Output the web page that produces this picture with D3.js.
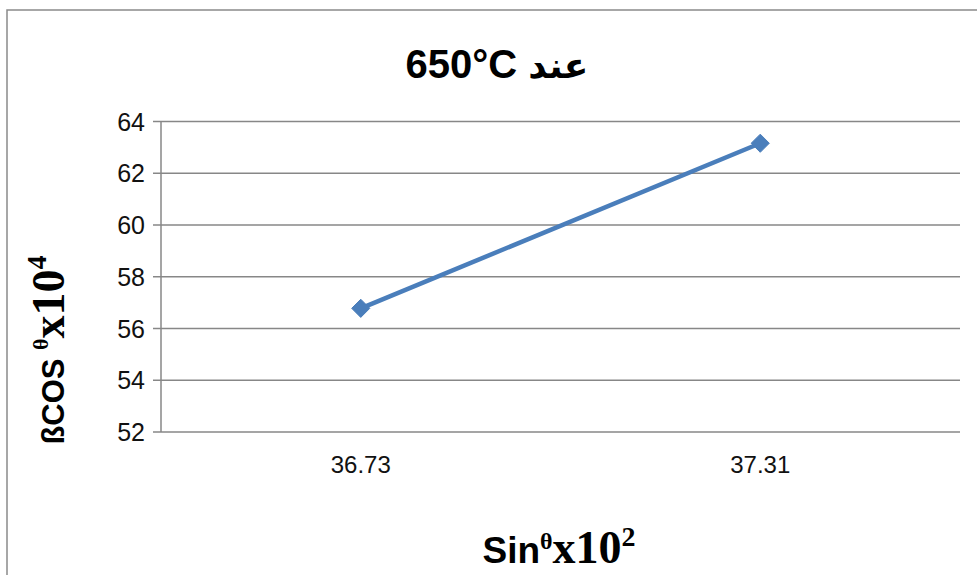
<!DOCTYPE html>
<html><head><meta charset="utf-8">
<script src="https://cdn.jsdelivr.net/npm/d3@7"></script>
<style>body{margin:0;background:#fff}svg{display:block}</style>
</head><body>
<svg id="c" width="977" height="575"></svg>
<script>
const categories = ["36.73", "37.31"];
const values = [56.78, 63.16];
const yTicks = [52, 54, 56, 58, 60, 62, 64];
const titleNumber = "650°C";
const titleWord = "عند";

const svg = d3.select("#c");
const W = 977, H = 575;
const m = {left: 161, right: 960, top: 121.5, bottom: 432};

// outer border
svg.append("rect").attr("x", 7).attr("y", 10).attr("width", W + 10).attr("height", H + 10)
  .attr("fill", "none").attr("stroke", "#8a8a8a").attr("stroke-width", 1.5);

const x = d3.scaleBand().domain(categories).range([m.left, m.right]);
const y = d3.scaleLinear().domain([52, 64]).range([m.bottom, m.top]);

// gridlines
svg.append("g").selectAll("line").data(yTicks).join("line")
  .attr("x1", m.left - 8).attr("x2", m.right)
  .attr("y1", d => y(d)).attr("y2", d => y(d))
  .attr("stroke", "#878787").attr("stroke-width", 1.5);

// y axis line
svg.append("line").attr("x1", m.left).attr("x2", m.left).attr("y1", m.top).attr("y2", m.bottom)
  .attr("stroke", "#878787").attr("stroke-width", 1.5);

// y tick labels
svg.append("g").selectAll("text").data(yTicks).join("text")
  .attr("x", 145).attr("y", d => y(d)).attr("dy", "0.36em")
  .attr("text-anchor", "end").attr("font-family", "Liberation Sans, Arial, sans-serif")
  .attr("font-size", 25).attr("fill", "#111").text(d => d);

// x tick labels
svg.append("g").selectAll("text").data(categories).join("text")
  .attr("x", d => x(d) + x.bandwidth() / 2).attr("y", 473)
  .attr("text-anchor", "middle").attr("font-family", "Liberation Sans, Arial, sans-serif")
  .attr("font-size", 24).attr("fill", "#111").text(d => d);

// line
const pts = categories.map((c, i) => [x(c) + x.bandwidth() / 2, y(values[i])]);
svg.append("path").attr("d", d3.line()(pts)).attr("fill", "none")
  .attr("stroke", "#4a7ebb").attr("stroke-width", 4.5).attr("stroke-linecap", "round");

// diamond markers
svg.append("g").selectAll("path").data(pts).join("path")
  .attr("transform", d => `translate(${d[0]},${d[1]})`)
  .attr("d", d3.symbol().type(d3.symbolDiamond2).size(210))
  .attr("fill", "#4a7ebb").attr("stroke", "#4a7ebb").attr("stroke-width", 1);

// title
const tt = svg.append("text").attr("x", 497).attr("y", 78).attr("text-anchor", "middle")
  .attr("direction", "ltr")
  .attr("font-family", "Liberation Sans, DejaVu Sans, sans-serif").attr("font-weight", "bold")
  .attr("font-size", 40).attr("fill", "#000");
tt.append("tspan").text(titleNumber + " ");
tt.append("tspan").attr("font-family", "DejaVu Sans, sans-serif").attr("font-size", 36).text(titleWord);

// x axis title
const xt = svg.append("text").attr("x", 559).attr("y", 563).attr("text-anchor", "middle")
  .attr("font-weight", "bold").attr("fill", "#000");
xt.append("tspan").attr("font-family", "Liberation Sans, sans-serif").attr("font-size", 37).text("Sin");
xt.append("tspan").attr("font-family", "Liberation Serif, serif").attr("font-size", 24).attr("dy", -14).text("θ");
xt.append("tspan").attr("font-family", "Liberation Serif, serif").attr("font-size", 46).attr("dy", 14).text("x10");
xt.append("tspan").attr("font-family", "Liberation Serif, serif").attr("font-size", 28).attr("dy", -17).text("2");

// y axis title
const yt = svg.append("text").attr("transform", "translate(64,350) rotate(-90)")
  .attr("text-anchor", "middle").attr("font-weight", "bold").attr("fill", "#000");
yt.append("tspan").attr("font-family", "Liberation Sans, sans-serif").attr("font-size", 31).text("ßCOS ");
yt.append("tspan").attr("font-family", "Liberation Serif, serif").attr("font-size", 22).attr("dy", -16).text("θ");
yt.append("tspan").attr("font-family", "Liberation Serif, serif").attr("font-size", 46).attr("dy", 16).text("x10");
yt.append("tspan").attr("font-family", "Liberation Serif, serif").attr("font-size", 28).attr("dy", -18).text("4");
</script>
</body></html>
